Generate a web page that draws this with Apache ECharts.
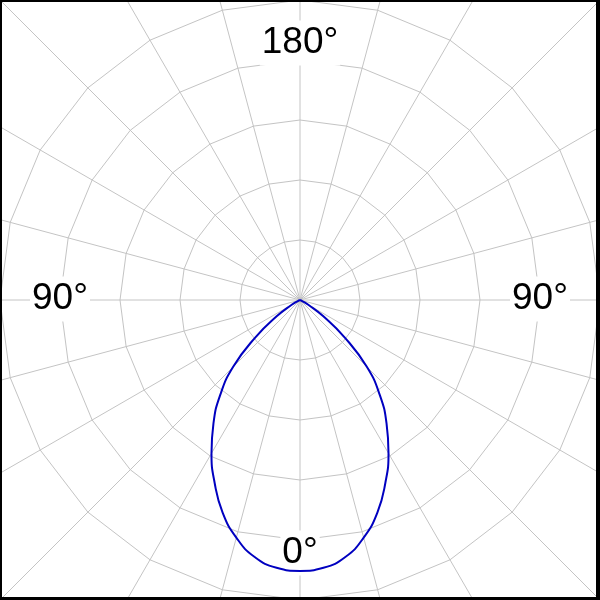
<!DOCTYPE html>
<html>
<head>
<meta charset="utf-8">
<script src="https://cdn.jsdelivr.net/npm/echarts@6/dist/echarts.min.js"></script>
<style>
html,body{margin:0;padding:0;background:#fff;}
#chart{width:600px;height:600px;}
</style>
</head>
<body>
<div id="chart"></div>
<script>
// Angle from the 0° (downward) direction, degrees
var angles = [-90,-85,-80,-75,-70,-65,-60,-55,-50,-45,-40,-35,-30,-25,-20,-15,-10,-5,0,5,10,15,20,25,30,35,40,45,50,55,60,65,70,75,80,85,90];
// Relative intensity (outer grid ring = 100)
var intensity = [0,0,0,0,0,0.8,3.2,9.5,19.5,31.5,41.4,50.3,59,67.3,75.4,82,87,89.6,90.3,89.6,87,82,75.4,67.3,59,50.3,41.4,31.5,19.5,9.5,3.2,0.8,0,0,0,0,0];
// Angle labels
var labelTexts = ['180°','90°','90°','0°'];

var spokes = [];
for (var i = 0; i < 24; i++) spokes.push({name: '', max: 100});

var data = angles.map(function (a, i) { return [intensity[i], a]; });

var chart = echarts.init(document.getElementById('chart'));
var font = '37px "Liberation Sans", Arial, sans-serif';
function lbl(t, x, y) {
  return {
    type: 'text', x: x, y: y, z: 1,
    style: {
      text: t, font: font, fill: '#000',
      align: 'center', verticalAlign: 'middle',
      backgroundColor: '#fff', padding: [4, 2, 4, 2]
    }
  };
}
function bar(x, y, w, h) {
  return { type: 'rect', z: 10, shape: { x: x, y: y, width: w, height: h }, style: { fill: '#000' } };
}
chart.setOption({
  animation: false,
  backgroundColor: '#fff',
  polar: { center: [300, 300], radius: 424.3 },
  angleAxis: {
    type: 'value', min: -180, max: 180, interval: 15, startAngle: 90, clockwise: true,
    z: 0,
    axisLine: { show: false }, axisTick: { show: false }, axisLabel: { show: false },
    splitLine: { show: true, lineStyle: { color: '#c4c4c4', width: 1 } }
  },
  radiusAxis: {
    type: 'value', min: 0, max: 141.42, z: 0,
    axisLine: { show: false }, axisTick: { show: false }, axisLabel: { show: false },
    splitLine: { show: false }
  },
  radar: {
    center: [300, 300], radius: 300, startAngle: 90, shape: 'polygon', splitNumber: 5,
    indicator: spokes, z: 0,
    axisName: { show: false },
    axisLine: { show: false },
    splitArea: { show: false },
    splitLine: { lineStyle: { color: '#c4c4c4', width: 1 } }
  },
  graphic: [
    lbl(labelTexts[0], 300, 43),
    lbl(labelTexts[1], 60, 299),
    lbl(labelTexts[2], 540, 299),
    lbl(labelTexts[3], 300, 553),
    bar(0, 0, 600, 2),
    bar(0, 0, 2, 600),
    bar(596, 0, 4, 600),
    bar(0, 597, 600, 3)
  ],
  series: [{
    type: 'line', coordinateSystem: 'polar', data: data,
    smooth: 0.5, showSymbol: false, z: 5,
    lineStyle: { color: '#0000c0', width: 2 }
  }]
});
</script>
</body>
</html>
